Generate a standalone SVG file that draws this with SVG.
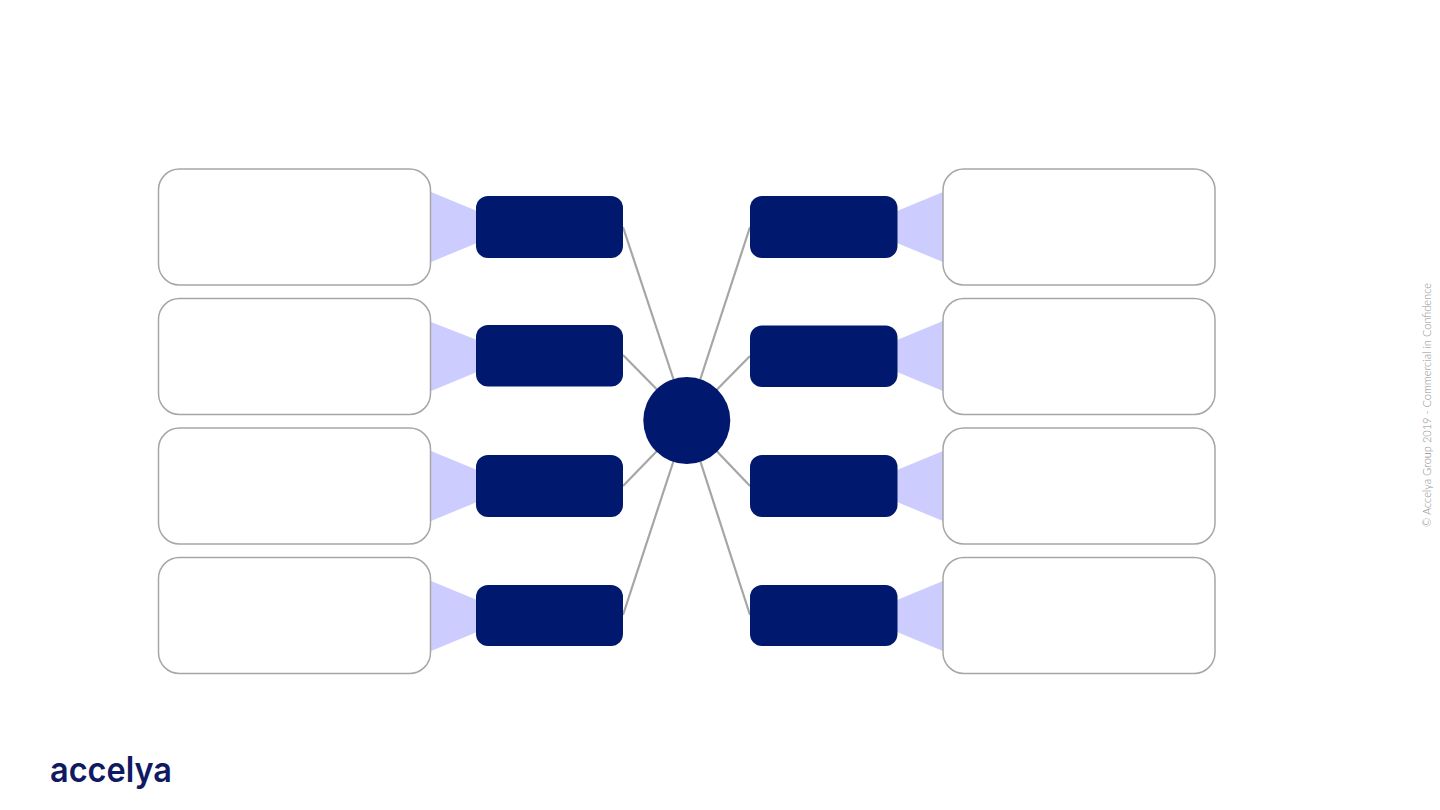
<svg xmlns="http://www.w3.org/2000/svg" width="1440" height="810" viewBox="0 0 1440 810">
<style>
.card{fill:#fff;stroke:#a6a6a6;stroke-width:1.5}
.pill{fill:#00186e}
.wedge{fill:#ccccff}
.conn line{stroke:#a6a6a6;stroke-width:2.2}
.logo{font-family:"Inter","Liberation Sans",sans-serif;font-size:35px;font-weight:600;fill:#0f1a63}
.copy{font-family:"Lato","Open Sans",sans-serif;font-size:12.5px;font-weight:300;fill:#8c8c8c}
</style>
<rect width="1440" height="810" fill="#fff"/>
<g id="connectors" class="conn">
<line x1="623" y1="227" x2="687" y2="420"/><line x1="623" y1="355" x2="687" y2="420"/><line x1="623" y1="486" x2="687" y2="420"/><line x1="623" y1="615" x2="687" y2="420"/>
<line x1="750" y1="227" x2="687" y2="420"/><line x1="750" y1="356" x2="687" y2="420"/><line x1="750" y1="486" x2="687" y2="420"/><line x1="750" y1="615" x2="687" y2="420"/>
</g>
<g id="wedges">
<polygon class="wedge" points="431,192 477,211 477,243 431,262"/>
<polygon class="wedge" points="431,322 477,340 477,372 431,391"/>
<polygon class="wedge" points="431,451 477,470 477,502 431,521"/>
<polygon class="wedge" points="431,581 477,600 477,632 431,651"/>
<polygon class="wedge" points="943,192 897,211 897,243 943,262"/>
<polygon class="wedge" points="943,321 897,340 897,372 943,391"/>
<polygon class="wedge" points="943,451 897,470 897,502 943,521"/>
<polygon class="wedge" points="943,581 897,600 897,632 943,651"/>
</g>
<g id="card-l1"><rect class="card" x="158.500" y="169" width="272" height="116" rx="21"/></g>
<g id="card-l2"><rect class="card" x="158.500" y="298.500" width="272" height="116" rx="21"/></g>
<g id="card-l3"><rect class="card" x="158.500" y="428" width="272" height="116" rx="21"/></g>
<g id="card-l4"><rect class="card" x="158.500" y="557.500" width="272" height="116" rx="21"/></g>
<g id="card-r1"><rect class="card" x="943" y="169" width="272" height="116" rx="21"/></g>
<g id="card-r2"><rect class="card" x="943" y="298.500" width="272" height="116" rx="21"/></g>
<g id="card-r3"><rect class="card" x="943" y="428" width="272" height="116" rx="21"/></g>
<g id="card-r4"><rect class="card" x="943" y="557.500" width="272" height="116" rx="21"/></g>
<g id="pill-l1"><rect class="pill" x="476" y="196" width="147" height="62" rx="12"/></g>
<g id="pill-l2"><rect class="pill" x="476" y="325" width="147" height="61.500" rx="12"/></g>
<g id="pill-l3"><rect class="pill" x="476" y="455" width="147" height="62" rx="12"/></g>
<g id="pill-l4"><rect class="pill" x="476" y="585" width="147" height="61" rx="12"/></g>
<g id="pill-r1"><rect class="pill" x="750" y="196" width="147.500" height="62" rx="12"/></g>
<g id="pill-r2"><rect class="pill" x="750" y="325.500" width="147.500" height="61.500" rx="12"/></g>
<g id="pill-r3"><rect class="pill" x="750" y="455" width="147.500" height="62" rx="12"/></g>
<g id="pill-r4"><rect class="pill" x="750" y="585" width="147.500" height="61" rx="12"/></g>
<g id="hub"><circle class="pill" cx="686.800" cy="420.500" r="43.500"/></g>
<text class="logo" transform="translate(50 782)" textLength="122" lengthAdjust="spacingAndGlyphs">accelya</text>
<text class="copy" transform="translate(1431 527) rotate(-90)" textLength="244" lengthAdjust="spacingAndGlyphs">© Accelya Group 2019 - Commercial in Confidence</text>
</svg>
